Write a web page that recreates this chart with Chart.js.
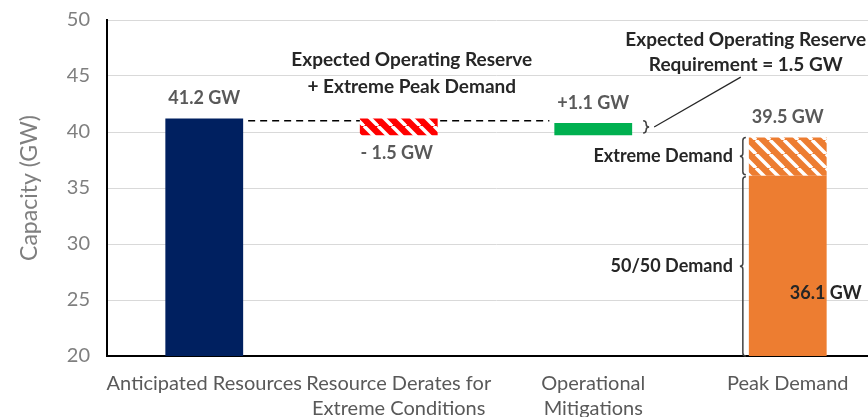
<!DOCTYPE html>
<html>
<head>
<meta charset="utf-8">
<script src="https://cdn.jsdelivr.net/npm/chart.js@4.4.0/dist/chart.umd.min.js"></script>
<style>
  html, body { margin: 0; padding: 0; background: #fff; overflow: hidden; }
  #wrap { width: 868px; height: 417px; overflow: hidden; }
</style>
</head>
<body>
<div id="wrap"><canvas id="chart" width="886" height="417"></canvas></div>
<script>
// data
const categories = [['Anticipated Resources'], ['Resource Derates for', 'Extreme Conditions'], ['Operational', 'Mitigations'], ['Peak Demand']];
const solidBase = [20, null, 39.7, 20];
const solidTop = [41.2, null, 40.8, 36.1];
const hatchBase = [null, 39.7, null, 36.1];
const hatchTop = [null, 41.2, null, 39.5];
const valueLabels = ['41.2 GW', '- 1.5 GW', '+1.1 GW', '39.5 GW'];
const baseDemandLabel = '36.1 GW';
const reserveLevel = 41.0;
const yMin = 20, yMax = 50, yStep = 5;

const FONT = 'Lato';

function hatch(color) {
    const c = document.createElement('canvas');
    c.width = 14; c.height = 14;
    const g = c.getContext('2d');
    g.fillStyle = color;
    g.fillRect(0, 0, 14, 14);
    g.strokeStyle = '#fff';
    g.lineWidth = 3.5;
    for (const k of [-14, 0, 14]) {
        g.beginPath();
        g.moveTo(k, 0);
        g.lineTo(k + 14, 14);
        g.stroke();
    }
    return g.createPattern(c, 'repeat');
}

function brace(ctx, x, y1, y2, dir) {
    // dir -1 -> "{", dir +1 -> "}"
    const m = (y1 + y2) / 2, r = 3;
    ctx.beginPath();
    ctx.moveTo(x - dir * r, y1);
    ctx.quadraticCurveTo(x, y1, x, y1 + r);
    ctx.lineTo(x, m - r);
    ctx.quadraticCurveTo(x, m, x + dir * r, m);
    ctx.quadraticCurveTo(x, m, x, m + r);
    ctx.lineTo(x, y2 - r);
    ctx.quadraticCurveTo(x, y2, x - dir * r, y2);
    ctx.stroke();
}

const pairs = (lo, hi) => lo.map((v, i) => v === null ? null : [v, hi[i]]);

const annotations = {
    id: 'annotations',
    beforeDatasetsDraw(chart) {
        const { ctx, scales: { x, y } } = chart;
        const bars = chart.getDatasetMeta(0).data;
        const yy = y.getPixelForValue(reserveLevel);
        ctx.save();
        ctx.strokeStyle = '#000';
        ctx.lineWidth = 1.5;
        ctx.setLineDash([7, 5]);
        ctx.beginPath();
        ctx.moveTo(bars[0].x + bars[0].width / 2 + 5, yy);
        ctx.lineTo(bars[2].x - bars[2].width / 2 - 5, yy);
        ctx.stroke();
        ctx.restore();
    },
    afterDatasetsDraw(chart) {
        const { ctx, scales: { x, y } } = chart;
        const bars = chart.getDatasetMeta(0).data;
        const half = bars[0].width / 2;
        ctx.save();
        ctx.textAlign = 'center';
        ctx.textBaseline = 'middle';

        // value labels
        ctx.font = 'bold 18px ' + FONT;
        ctx.fillStyle = '#595959';
        valueLabels.forEach((t, i) => {
            const cx = x.getPixelForValue(i);
            if (i === 1) {
                ctx.fillText(t, cx - 2, y.getPixelForValue(hatchBase[1]) + 18);
            } else {
                const top = i === 3 ? hatchTop[3] : solidTop[i];
                ctx.fillText(t, cx, y.getPixelForValue(top) - 20);
            }
        });

        ctx.font = 'bold 19px ' + FONT;
        ctx.fillStyle = '#262626';
        // middle note
        const mx = x.getPixelForValue(1) + 13;
        ctx.fillText('Expected Operating Reserve', mx, y.getPixelForValue(46.4));
        ctx.fillText('+ Extreme Peak Demand', mx, y.getPixelForValue(44.0));

        // right note
        const rx = x.getPixelForValue(3) - 42;
        ctx.fillText('Expected Operating Reserve', rx, y.getPixelForValue(48.2));
        ctx.fillText('Requirement = 1.5 GW', rx, y.getPixelForValue(45.95));

        // demand labels
        ctx.font = 'bold 18px ' + FONT;
        const px = x.getPixelForValue(3);
        const bx = px - half - 6;
        ctx.textAlign = 'right';
        ctx.fillText('Extreme Demand', bx - 10, y.getPixelForValue((hatchBase[3] + hatchTop[3]) / 2));
        ctx.fillText('50/50 Demand', bx - 10, y.getPixelForValue((solidBase[3] + solidTop[3]) / 2));
        ctx.textAlign = 'left';
        ctx.fillText(baseDemandLabel, px + 2, y.getPixelForValue(25.6));

        // braces
        ctx.strokeStyle = '#404040';
        ctx.lineWidth = 1.5;
        brace(ctx, bx, y.getPixelForValue(hatchTop[3]), y.getPixelForValue(hatchBase[3]) - 1, -1);
        brace(ctx, bx, y.getPixelForValue(solidTop[3]) + 1, y.getPixelForValue(solidBase[3]), -1);

        const gx = x.getPixelForValue(2) + half + 14;
        const g1 = y.getPixelForValue(41.0), g2 = y.getPixelForValue(39.9);
        brace(ctx, gx, g1, g2, 1);
        ctx.strokeStyle = '#262626';
        ctx.lineWidth = 1.2;
        ctx.beginPath();
        ctx.moveTo(gx + 8, (g1 + g2) / 2);
        ctx.lineTo(rx - 5, y.getPixelForValue(44.9));
        ctx.stroke();
        ctx.restore();
    }
};

new Chart(document.getElementById('chart').getContext('2d'), {
    type: 'bar',
    data: {
        labels: categories,
        datasets: [{
            data: pairs(solidBase, solidTop),
            backgroundColor: ['#002060', null, '#00B050', '#ED7D31'],
            grouped: false,
            barPercentage: 0.4,
            categoryPercentage: 1
        }, {
            data: pairs(hatchBase, hatchTop),
            backgroundColor: [null, hatch('#FF0000'), null, hatch('#ED7D31')],
            grouped: false,
            barPercentage: 0.4,
            categoryPercentage: 1
        }]
    },
    options: {
        responsive: false,
        animation: false,
        layout: { padding: { top: 20, right: 1, left: 0, bottom: 0 } },
        plugins: { legend: { display: false }, tooltip: { enabled: false } },
        scales: {
            x: {
                afterFit: s => { s.height = 61; },
                grid: { display: false, drawTicks: false },
                border: { color: '#000', width: 2 },
                ticks: {
                    color: '#595959',
                    font: { family: FONT, size: 20, lineHeight: 1.25 },
                    padding: 15,
                    maxRotation: 0,
                    autoSkip: false
                }
            },
            y: {
                min: yMin,
                max: yMax,
                afterFit: s => { s.width = 107; s.paddingTop = 0; s.paddingBottom = 0; },
                grid: { color: '#d9d9d9', lineWidth: 1, drawTicks: false },
                border: { color: '#000', width: 2 },
                ticks: {
                    stepSize: yStep,
                    color: '#7f7f7f',
                    font: { family: FONT, size: 20 },
                    padding: 17
                },
                title: {
                    display: true,
                    text: 'Capacity (GW)',
                    color: '#7f7f7f',
                    font: { family: FONT, size: 23 },
                    padding: { top: 16, bottom: 0 }
                }
            }
        }
    },
    plugins: [annotations]
});
</script>
</body>
</html>
